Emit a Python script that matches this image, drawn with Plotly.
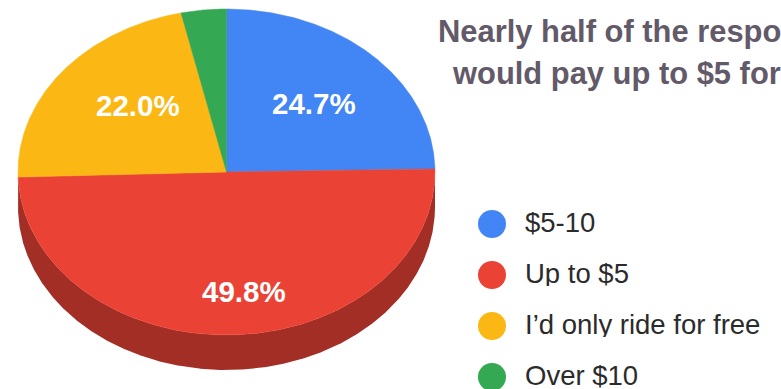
import numpy as np
import plotly.graph_objects as go

categories = ["$5-10", "Up to $5", "I’d only ride for free", "Over $10"]
shares = [24.7, 49.8, 22.0, 3.5]
share_labels = ["24.7%", "49.8%", "22.0%", None]

title_lines = ["Nearly half of the respo", "would pay up to $5 for"]

W, H = 781, 389
colors = ["#4285F4", "#EA4335", "#FBB713", "#34A853"]
wall_colors = ["#2E5DAB", "#A32E25", "#B08309", "#247539"]
CX, CY, RX, RY, DEPTH = 226.5, 172.0, 208.5, 163.0, 35.0
label_pos = [(314, 103), (244, 291), (138, 105), None]
legend_x, legend_text_x = 492, 523
legend_y = [224, 275, 326, 377]

fig = go.Figure()
total = sum(shares)
edges = np.cumsum([0] + shares) / total * 2 * np.pi


def arc(a, b):
    n = max(2, int((b - a) / 0.005))
    return np.linspace(a, b, n)


for i, cat in enumerate(categories):
    t = arc(edges[i], edges[i + 1])
    low = t[np.cos(t) <= 0]
    if len(low) > 1:
        xs = CX + RX * np.sin(low)
        ys = CY - RY * np.cos(low)
        fig.add_trace(go.Scatter(
            x=np.r_[xs, xs[::-1]], y=np.r_[ys, ys[::-1] + DEPTH],
            mode="lines", fill="toself", fillcolor=wall_colors[i],
            line=dict(width=0), hoverinfo="skip", showlegend=False))

for i, cat in enumerate(categories):
    t = arc(edges[i], edges[i + 1])
    fig.add_trace(go.Scatter(
        x=np.r_[CX, CX + RX * np.sin(t), CX],
        y=np.r_[CY, CY - RY * np.cos(t), CY],
        mode="lines", fill="toself", fillcolor=colors[i],
        line=dict(width=0.5, color=colors[i]), name=cat,
        hoverinfo="name", showlegend=False))

annotations = []
for i, cat in enumerate(categories):
    fig.add_trace(go.Scatter(
        x=[legend_x], y=[legend_y[i]], mode="markers",
        marker=dict(size=28, color=colors[i]),
        hoverinfo="skip", showlegend=False, cliponaxis=False))
    annotations.append(dict(
        x=legend_text_x, y=legend_y[i] - 2, xref="x", yref="y", text=cat,
        showarrow=False, xanchor="left", yanchor="middle", height=26,
        font=dict(family="Liberation Sans", size=27.5, color="#2b2b2b")))
    if share_labels[i]:
        annotations.append(dict(
            x=label_pos[i][0], y=label_pos[i][1], xref="x", yref="y",
            text="<b>" + share_labels[i] + "</b>", showarrow=False,
            xanchor="center", yanchor="middle",
            font=dict(family="Liberation Sans", size=29.5, color="white")))

for x0, y0, line in zip([436, 450], [31, 73], title_lines):
    annotations.append(dict(
        x=x0, y=y0, xref="x", yref="y", text="<b>" + line + "</b>",
        showarrow=False, xanchor="left", yanchor="middle",
        font=dict(family="Liberation Sans", size=30.9, color="#635A69")))

fig.update_layout(
    width=W, height=H,
    margin=dict(l=0, r=0, t=0, b=0),
    paper_bgcolor="white", plot_bgcolor="white", showlegend=False,
    annotations=annotations,
    xaxis=dict(range=[0, W], visible=False, fixedrange=True),
    yaxis=dict(range=[H, 0], visible=False, fixedrange=True),
)
fig.write_html(
    "out.html", config=dict(displayModeBar=False),
    post_script="document.body.style.margin='0';"
                "document.documentElement.style.overflow='hidden';",
)
